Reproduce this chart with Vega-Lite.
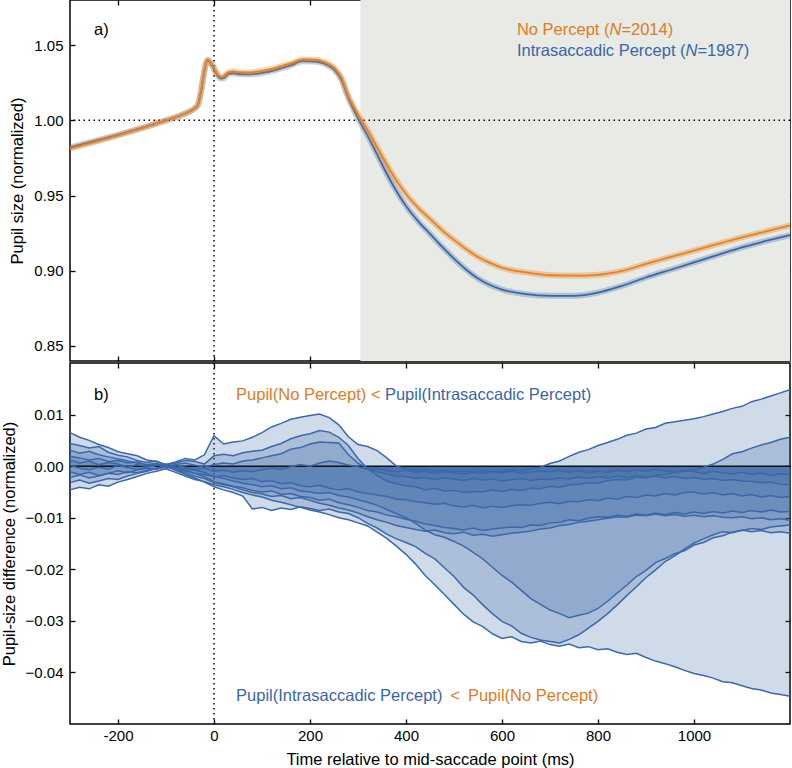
{
"$schema":"https://vega.github.io/schema/vega-lite/v6.json",
"padding":{"left":0,"top":-2,"right":0,"bottom":0},
"background":"white",
"spacing":-4,
"config":{
"font":"Liberation Sans",
"view":{"stroke":"black","strokeWidth":1.5},
"axis":{"domain":false,"grid":false,"tickColor":"black","tickWidth":1.3,"tickSize":-5,"labelFont":"Liberation Sans","labelFontSize":15,"labelColor":"black","labelPadding":12,"titleFont":"Liberation Sans","titleFontSize":16.5,"titleFontWeight":"normal","titleColor":"black","titlePadding":8}
},
"datasets":{
"top":[
{"t":-300,"o":0.9812,"b":0.9820},{"t":-250,"o":0.9855,"b":0.9861},{"t":-200,"o":0.9900,"b":0.9904},{"t":-150,"o":0.9948,"b":0.9950},{"t":-100,"o":1.0000,"b":1.0000},{"t":-75,"o":1.0027,"b":1.0027},{"t":-55,"o":1.0052,"b":1.0052},{"t":-42,"o":1.0075,"b":1.0075},{"t":-34,"o":1.0100,"b":1.0100},{"t":-28,"o":1.0175,"b":1.0175},{"t":-22,"o":1.0290,"b":1.0290},{"t":-17,"o":1.0375,"b":1.0375},{"t":-13,"o":1.0403,"b":1.0400},{"t":-9,"o":1.0392,"b":1.0388},{"t":-4,"o":1.0370,"b":1.0365},{"t":2,"o":1.0335,"b":1.0328},{"t":8,"o":1.0305,"b":1.0295},{"t":14,"o":1.0290,"b":1.0278},{"t":20,"o":1.0293,"b":1.0280},{"t":26,"o":1.0310,"b":1.0297},{"t":32,"o":1.0322,"b":1.0310},{"t":40,"o":1.0325,"b":1.0313},{"t":50,"o":1.0320,"b":1.0308},{"t":70,"o":1.0318,"b":1.0305},{"t":100,"o":1.0328,"b":1.0315},{"t":130,"o":1.0350,"b":1.0336},{"t":160,"o":1.0378,"b":1.0365},{"t":185,"o":1.0405,"b":1.0393},{"t":210,"o":1.0403,"b":1.0391},{"t":230,"o":1.0388,"b":1.0376},{"t":250,"o":1.0350,"b":1.0338},{"t":265,"o":1.0285,"b":1.0273},{"t":280,"o":1.0160,"b":1.0148},{"t":300,"o":1.0040,"b":1.0012},{"t":320,"o":0.9935,"b":0.9898},{"t":340,"o":0.9820,"b":0.9772},{"t":360,"o":0.9705,"b":0.9645},{"t":380,"o":0.9600,"b":0.9530},{"t":400,"o":0.9510,"b":0.9430},{"t":425,"o":0.9420,"b":0.9330},{"t":450,"o":0.9345,"b":0.9245},{"t":475,"o":0.9270,"b":0.9160},{"t":500,"o":0.9205,"b":0.9080},{"t":525,"o":0.9145,"b":0.9008},{"t":550,"o":0.9092,"b":0.8948},{"t":575,"o":0.9052,"b":0.8905},{"t":600,"o":0.9020,"b":0.8875},{"t":650,"o":0.8989,"b":0.8844},{"t":700,"o":0.8970,"b":0.8833},{"t":750,"o":0.8967,"b":0.8833},{"t":800,"o":0.8973,"b":0.8855},{"t":850,"o":0.8999,"b":0.8900},{"t":900,"o":0.9045,"b":0.8955},{"t":950,"o":0.9090,"b":0.9005},{"t":1000,"o":0.9134,"b":0.9055},{"t":1050,"o":0.9178,"b":0.9106},{"t":1100,"o":0.9222,"b":0.9156},{"t":1150,"o":0.9262,"b":0.9198},{"t":1200,"o":0.9302,"b":0.9237}
],
"diff":[
{"t":-300,"a":0.0065,"b":0.0044,"c":0.0031,"d":0.0019,"e":0.0012,"f":0.0002,"g":-0.0011,"h":-0.0022,"i":-0.0032,"j":-0.0046},
{"t":-280,"a":0.0056,"b":0.004,"c":0.0025,"d":0.0016,"e":0.0006,"f":-0.0004,"g":-0.0016,"h":-0.0017,"i":-0.0027,"j":-0.0041},
{"t":-260,"a":0.005,"b":0.0035,"c":0.0029,"d":0.0012,"e":0.001,"f":-0.0007,"g":-0.0012,"h":-0.0023,"i":-0.0033,"j":-0.0044},
{"t":-240,"a":0.0042,"b":0.0038,"c":0.0022,"d":0.0015,"e":0.0003,"f":-0.0002,"g":-0.0018,"h":-0.0019,"i":-0.0029,"j":-0.0036},
{"t":-220,"a":0.0036,"b":0.0027,"c":0.0018,"d":0.0009,"e":0.0007,"f":-0.0006,"g":-0.0014,"h":-0.0014,"i":-0.0024,"j":-0.0039},
{"t":-200,"a":0.0028,"b":0.0021,"c":0.0014,"d":0.0011,"e":0.0004,"f":0.0001,"g":-0.0009,"h":-0.0016,"i":-0.0026,"j":-0.0031},
{"t":-180,"a":0.0024,"b":0.0018,"c":0.001,"d":0.0006,"e":-0.0002,"f":-0.0003,"g":-0.0013,"h":-0.0011,"i":-0.0019,"j":-0.0026},
{"t":-160,"a":0.002,"b":0.0011,"c":0.0006,"d":0.0008,"e":0.0003,"f":-0.0006,"g":-0.0007,"h":-0.0013,"i":-0.0014,"j":-0.002},
{"t":-140,"a":0.0012,"b":0.0007,"c":0.0003,"d":0.0002,"e":-0.0001,"f":-0.0002,"g":-0.0004,"h":-0.0008,"i":-0.001,"j":-0.0014},
{"t":-120,"a":0.0009,"b":0.001,"c":0.0005,"d":0.0004,"e":0.0002,"f":0.0001,"g":-0.0006,"h":-0.0005,"i":-0.0004,"j":-0.001},
{"t":-100,"a":0.0003,"b":0.0002,"c":-0.0001,"d":-0.0003,"e":0.0001,"f":0.0004,"g":0,"h":-0.0002,"i":0.0001,"j":-0.0005},
{"t":-80,"a":0.0008,"b":0.0006,"c":0.0003,"d":0.0001,"e":-0.0003,"f":-0.0002,"g":-0.0007,"h":-0.0006,"i":-0.0008,"j":-0.0012},
{"t":-60,"a":0.0015,"b":0.0011,"c":0.0006,"d":-0.0002,"e":-0.0005,"f":-0.0008,"g":-0.0013,"h":-0.001,"i":-0.0016,"j":-0.0019},
{"t":-40,"a":0.0012,"b":0.0009,"c":0.0002,"d":-0.0006,"e":-0.0008,"f":-0.0014,"g":-0.0019,"h":-0.0014,"i":-0.0023,"j":-0.0026},
{"t":-20,"a":0.0022,"b":0.0004,"c":-0.0002,"d":-0.0004,"e":-0.0012,"f":-0.002,"g":-0.0024,"h":-0.0016,"i":-0.0031,"j":-0.003},
{"t":0,"a":0.0059,"b":0.002,"c":0.0003,"d":-0.001,"e":-0.0021,"f":-0.003,"g":-0.0032,"h":-0.002,"i":-0.004,"j":-0.0036},
{"t":20,"a":0.0043,"b":0.0023,"c":0.0006,"d":-0.0008,"e":-0.0018,"f":-0.0034,"g":-0.0036,"h":-0.0024,"i":-0.0046,"j":-0.004},
{"t":40,"a":0.0047,"b":0.002,"c":0.0004,"d":-0.0012,"e":-0.0023,"f":-0.0039,"g":-0.004,"h":-0.0029,"i":-0.0051,"j":-0.0045},
{"t":60,"a":0.0049,"b":0.0026,"c":0.001,"d":-0.0009,"e":-0.0026,"f":-0.0042,"g":-0.0046,"h":-0.0033,"i":-0.0058,"j":-0.0051},
{"t":80,"a":0.0056,"b":0.0029,"c":0.0012,"d":-0.0011,"e":-0.0024,"f":-0.0047,"g":-0.0051,"h":-0.0036,"i":-0.0083,"j":-0.0056},
{"t":100,"a":0.0065,"b":0.0031,"c":0.0016,"d":-0.0007,"e":-0.003,"f":-0.005,"g":-0.0054,"h":-0.004,"i":-0.008,"j":-0.006},
{"t":120,"a":0.0076,"b":0.0038,"c":0.002,"d":-0.0004,"e":-0.0028,"f":-0.0048,"g":-0.0059,"h":-0.0038,"i":-0.0086,"j":-0.0066},
{"t":140,"a":0.0083,"b":0.0044,"c":0.0024,"d":-0.0006,"e":-0.0034,"f":-0.0055,"g":-0.0057,"h":-0.0044,"i":-0.0081,"j":-0.007},
{"t":160,"a":0.0091,"b":0.0053,"c":0.0033,"d":-0.0001,"e":-0.0032,"f":-0.0053,"g":-0.0063,"h":-0.0042,"i":-0.0084,"j":-0.0075},
{"t":180,"a":0.0095,"b":0.0059,"c":0.0036,"d":0.0003,"e":-0.0038,"f":-0.0059,"g":-0.0061,"h":-0.0048,"i":-0.0079,"j":-0.008},
{"t":200,"a":0.0098,"b":0.0063,"c":0.0043,"d":0,"e":-0.004,"f":-0.0061,"g":-0.0066,"h":-0.005,"i":-0.0082,"j":-0.0085},
{"t":220,"a":0.0101,"b":0.0069,"c":0.0047,"d":0.0006,"e":-0.0037,"f":-0.0066,"g":-0.0072,"h":-0.0053,"i":-0.0086,"j":-0.0089},
{"t":240,"a":0.0094,"b":0.0066,"c":0.0046,"d":0.001,"e":-0.0043,"f":-0.0064,"g":-0.0076,"h":-0.0051,"i":-0.0083,"j":-0.0094},
{"t":260,"a":0.008,"b":0.0056,"c":0.0045,"d":0.0007,"e":-0.0046,"f":-0.0071,"g":-0.0081,"h":-0.0057,"i":-0.0089,"j":-0.01},
{"t":280,"a":0.0057,"b":0.004,"c":0.0022,"d":0.0002,"e":-0.0044,"f":-0.0075,"g":-0.0085,"h":-0.006,"i":-0.0092,"j":-0.0104},
{"t":300,"a":0.0042,"b":0.0015,"c":0.0006,"d":-0.0001,"e":-0.005,"f":-0.008,"g":-0.0091,"h":-0.0065,"i":-0.01,"j":-0.011},
{"t":320,"a":0.0038,"b":-0.0005,"c":-0.0004,"d":-0.0006,"e":-0.0053,"f":-0.0086,"g":-0.0098,"h":-0.007,"i":-0.0111,"j":-0.0116},
{"t":340,"a":0.003,"b":-0.0018,"c":-0.0011,"d":-0.0004,"e":-0.0056,"f":-0.0089,"g":-0.0104,"h":-0.0076,"i":-0.012,"j":-0.0128},
{"t":360,"a":0.0016,"b":-0.0029,"c":-0.0015,"d":-0.0009,"e":-0.0059,"f":-0.0095,"g":-0.0109,"h":-0.0084,"i":-0.0132,"j":-0.014},
{"t":380,"a":0,"b":-0.0034,"c":-0.0019,"d":-0.0011,"e":-0.0064,"f":-0.0098,"g":-0.0115,"h":-0.0092,"i":-0.0141,"j":-0.0155},
{"t":400,"a":-0.0005,"b":-0.0038,"c":-0.002,"d":-0.0008,"e":-0.0065,"f":-0.0103,"g":-0.0119,"h":-0.01,"i":-0.0148,"j":-0.0171},
{"t":420,"a":-0.0008,"b":-0.004,"c":-0.0024,"d":-0.0012,"e":-0.0069,"f":-0.0107,"g":-0.0123,"h":-0.0111,"i":-0.0156,"j":-0.019},
{"t":440,"a":-0.0006,"b":-0.0046,"c":-0.0022,"d":-0.001,"e":-0.0071,"f":-0.0112,"g":-0.0126,"h":-0.0124,"i":-0.0169,"j":-0.0212},
{"t":460,"a":-0.001,"b":-0.0043,"c":-0.0026,"d":-0.0014,"e":-0.0074,"f":-0.0115,"g":-0.0124,"h":-0.0133,"i":-0.018,"j":-0.023},
{"t":480,"a":-0.0008,"b":-0.0048,"c":-0.0023,"d":-0.0011,"e":-0.0072,"f":-0.0119,"g":-0.0129,"h":-0.0138,"i":-0.0197,"j":-0.0249},
{"t":500,"a":-0.0011,"b":-0.0047,"c":-0.0025,"d":-0.0013,"e":-0.0077,"f":-0.0121,"g":-0.0131,"h":-0.0146,"i":-0.0214,"j":-0.0268},
{"t":520,"a":-0.0009,"b":-0.0051,"c":-0.0028,"d":-0.0015,"e":-0.0079,"f":-0.0124,"g":-0.0128,"h":-0.0155,"i":-0.0235,"j":-0.0287},
{"t":540,"a":-0.0012,"b":-0.0049,"c":-0.0024,"d":-0.0012,"e":-0.0076,"f":-0.012,"g":-0.0134,"h":-0.0167,"i":-0.025,"j":-0.0302},
{"t":560,"a":-0.0009,"b":-0.005,"c":-0.0027,"d":-0.0014,"e":-0.0081,"f":-0.0125,"g":-0.0132,"h":-0.018,"i":-0.0269,"j":-0.0311},
{"t":580,"a":-0.0011,"b":-0.0046,"c":-0.0025,"d":-0.0011,"e":-0.0078,"f":-0.0122,"g":-0.0136,"h":-0.0196,"i":-0.0286,"j":-0.0325},
{"t":600,"a":-0.001,"b":-0.0049,"c":-0.0029,"d":-0.0013,"e":-0.008,"f":-0.012,"g":-0.0133,"h":-0.0212,"i":-0.0301,"j":-0.0334},
{"t":620,"a":-0.0007,"b":-0.0045,"c":-0.0026,"d":-0.001,"e":-0.0077,"f":-0.0118,"g":-0.013,"h":-0.0225,"i":-0.031,"j":-0.0331},
{"t":640,"a":-0.0009,"b":-0.0047,"c":-0.0024,"d":-0.0014,"e":-0.0075,"f":-0.0119,"g":-0.0128,"h":-0.0241,"i":-0.0324,"j":-0.034},
{"t":660,"a":-0.0005,"b":-0.0043,"c":-0.0028,"d":-0.0012,"e":-0.0076,"f":-0.0114,"g":-0.0126,"h":-0.0257,"i":-0.0332,"j":-0.0343},
{"t":680,"a":-0.0002,"b":-0.0044,"c":-0.0025,"d":-0.0009,"e":-0.0072,"f":-0.0115,"g":-0.0122,"h":-0.0268,"i":-0.0337,"j":-0.0339},
{"t":700,"a":0.0005,"b":-0.0039,"c":-0.0026,"d":-0.0011,"e":-0.007,"f":-0.011,"g":-0.012,"h":-0.0279,"i":-0.034,"j":-0.0346},
{"t":720,"a":0.001,"b":-0.0041,"c":-0.0023,"d":-0.0008,"e":-0.0073,"f":-0.0109,"g":-0.0115,"h":-0.0286,"i":-0.0343,"j":-0.0349},
{"t":740,"a":0.0019,"b":-0.0036,"c":-0.0025,"d":-0.0012,"e":-0.0068,"f":-0.0104,"g":-0.0113,"h":-0.0294,"i":-0.0336,"j":-0.0345},
{"t":760,"a":0.0027,"b":-0.0035,"c":-0.0021,"d":-0.0009,"e":-0.0069,"f":-0.0106,"g":-0.0109,"h":-0.0289,"i":-0.0327,"j":-0.0352},
{"t":780,"a":0.0032,"b":-0.0032,"c":-0.0024,"d":-0.0013,"e":-0.0065,"f":-0.0101,"g":-0.0107,"h":-0.0285,"i":-0.0314,"j":-0.035},
{"t":800,"a":0.004,"b":-0.0033,"c":-0.002,"d":-0.001,"e":-0.0067,"f":-0.0098,"g":-0.0104,"h":-0.0276,"i":-0.0301,"j":-0.0356},
{"t":820,"a":0.0046,"b":-0.0028,"c":-0.0023,"d":-0.0012,"e":-0.0062,"f":-0.0099,"g":-0.0101,"h":-0.0262,"i":-0.0286,"j":-0.0354},
{"t":840,"a":0.0052,"b":-0.0026,"c":-0.0019,"d":-0.0008,"e":-0.0064,"f":-0.0095,"g":-0.0098,"h":-0.0246,"i":-0.0269,"j":-0.0361},
{"t":860,"a":0.006,"b":-0.0027,"c":-0.0022,"d":-0.0011,"e":-0.0059,"f":-0.0097,"g":-0.0099,"h":-0.0231,"i":-0.0251,"j":-0.0365},
{"t":880,"a":0.0064,"b":-0.0021,"c":-0.0018,"d":-0.0007,"e":-0.0061,"f":-0.0093,"g":-0.0095,"h":-0.0214,"i":-0.0234,"j":-0.0363},
{"t":900,"a":0.0072,"b":-0.0023,"c":-0.0021,"d":-0.001,"e":-0.0056,"f":-0.0095,"g":-0.0096,"h":-0.0202,"i":-0.0216,"j":-0.0371},
{"t":920,"a":0.0075,"b":-0.0017,"c":-0.0019,"d":-0.0006,"e":-0.0058,"f":-0.0091,"g":-0.0093,"h":-0.0187,"i":-0.0201,"j":-0.0378},
{"t":940,"a":0.0083,"b":-0.0016,"c":-0.0023,"d":-0.0009,"e":-0.0053,"f":-0.0094,"g":-0.0096,"h":-0.0179,"i":-0.0185,"j":-0.0383},
{"t":960,"a":0.0086,"b":-0.0012,"c":-0.002,"d":-0.0012,"e":-0.0056,"f":-0.009,"g":-0.0094,"h":-0.017,"i":-0.0174,"j":-0.0389},
{"t":980,"a":0.0089,"b":-0.001,"c":-0.0024,"d":-0.0008,"e":-0.0051,"f":-0.0093,"g":-0.0097,"h":-0.0164,"i":-0.0161,"j":-0.0396},
{"t":1000,"a":0.0092,"b":-0.0007,"c":-0.0022,"d":-0.0011,"e":-0.005,"f":-0.0089,"g":-0.0095,"h":-0.0153,"i":-0.0149,"j":-0.0402},
{"t":1020,"a":0.0096,"b":-0.0002,"c":-0.0026,"d":-0.0014,"e":-0.0054,"f":-0.0092,"g":-0.0098,"h":-0.0148,"i":-0.0141,"j":-0.0406},
{"t":1040,"a":0.0101,"b":0.0004,"c":-0.0024,"d":-0.001,"e":-0.0051,"f":-0.0088,"g":-0.0096,"h":-0.0139,"i":-0.0133,"j":-0.0411},
{"t":1060,"a":0.0106,"b":0.0013,"c":-0.0028,"d":-0.0013,"e":-0.0056,"f":-0.0091,"g":-0.0099,"h":-0.0135,"i":-0.0127,"j":-0.0418},
{"t":1080,"a":0.0112,"b":0.0024,"c":-0.0026,"d":-0.0015,"e":-0.0053,"f":-0.0087,"g":-0.01,"h":-0.0128,"i":-0.0129,"j":-0.042},
{"t":1100,"a":0.0116,"b":0.0028,"c":-0.0029,"d":-0.0012,"e":-0.0058,"f":-0.009,"g":-0.0098,"h":-0.0125,"i":-0.0124,"j":-0.0426},
{"t":1120,"a":0.0125,"b":0.0035,"c":-0.003,"d":-0.0016,"e":-0.0055,"f":-0.0086,"g":-0.0102,"h":-0.0121,"i":-0.0127,"j":-0.0431},
{"t":1140,"a":0.013,"b":0.0041,"c":-0.0032,"d":-0.0014,"e":-0.006,"f":-0.0089,"g":-0.01,"h":-0.0123,"i":-0.0125,"j":-0.0434},
{"t":1160,"a":0.0136,"b":0.0046,"c":-0.0031,"d":-0.0018,"e":-0.0057,"f":-0.0085,"g":-0.0104,"h":-0.0118,"i":-0.0129,"j":-0.044},
{"t":1180,"a":0.0142,"b":0.0052,"c":-0.0035,"d":-0.0015,"e":-0.0061,"f":-0.0089,"g":-0.0102,"h":-0.0116,"i":-0.0127,"j":-0.0443},
{"t":1200,"a":0.0148,"b":0.0056,"c":-0.0036,"d":-0.0017,"e":-0.0059,"f":-0.0088,"g":-0.0105,"h":-0.0114,"i":-0.013,"j":-0.0446}
]
},
"vconcat":[
{
"width":720,"height":361,
"resolve":{"axis":{"x":"independent","y":"independent"}},
"layer":[
{"data":{"values":[{"t0":305,"t1":1200}]},"mark":{"type":"rect","color":"#e8eae6"},
"encoding":{"x":{"field":"t0","type":"quantitative","scale":{"domain":[-300,1200],"nice":false,"zero":false},"axis":{"orient":"bottom","values":[-200,0,200,400,600,800,1000],"labels":false,"title":null}},"x2":{"field":"t1"}}},
{"data":{"values":[{}]},"mark":{"type":"rule","color":"black","strokeWidth":1.5,"strokeDash":[1.5,3.5]},
"encoding":{"y":{"datum":1,"type":"quantitative","scale":{"domain":[0.84,1.08],"nice":false,"zero":false},"axis":null}}},
{"data":{"values":[{}]},"mark":{"type":"rule","color":"black","strokeWidth":1.5,"strokeDash":[1.5,3.5]},
"encoding":{"x":{"datum":0,"type":"quantitative","scale":{"domain":[-300,1200],"nice":false,"zero":false},"axis":null}}},
{"data":{"name":"top"},"mark":{"type":"line","color":"#3a67a8","strokeWidth":6,"opacity":0.3,"interpolate":"monotone"},
"encoding":{"x":{"field":"t","type":"quantitative","scale":{"domain":[-300,1200],"nice":false,"zero":false},"axis":{"orient":"top","values":[-200,0,200,400,600,800,1000],"labels":false,"title":null}},
"y":{"field":"b","type":"quantitative","scale":{"domain":[0.84,1.08],"nice":false,"zero":false},"axis":{"orient":"left","values":[0.85,0.9,0.95,1,1.05],"format":".2f","title":"Pupil size (normalized)"}}}},
{"data":{"name":"top"},"mark":{"type":"line","color":"#3a67a8","strokeWidth":1.8,"interpolate":"monotone"},
"encoding":{"x":{"field":"t","type":"quantitative","axis":null},"y":{"field":"b","type":"quantitative","axis":null}}},
{"data":{"name":"top"},"mark":{"type":"line","color":"#e8821f","strokeWidth":6,"opacity":0.35,"interpolate":"monotone"},
"encoding":{"x":{"field":"t","type":"quantitative","axis":null},
"y":{"field":"o","type":"quantitative","axis":{"orient":"right","values":[0.85,0.9,0.95,1,1.05],"labels":false,"title":null}}}},
{"data":{"name":"top"},"mark":{"type":"line","color":"#e8821f","strokeWidth":1.8,"interpolate":"monotone"},
"encoding":{"x":{"field":"t","type":"quantitative","axis":null},"y":{"field":"o","type":"quantitative","axis":null}}},
{"data":{"values":[{}]},"mark":{"type":"text","text":"a)","align":"left","baseline":"middle","fontSize":16.5,"color":"black"},
"encoding":{"x":{"datum":-250,"type":"quantitative","axis":null},"y":{"datum":1.0601,"type":"quantitative","axis":null}}},
{"data":{"values":[{}]},"mark":{"type":"text","text":"No Percept (","align":"left","baseline":"middle","fontSize":16.5,"color":"#e07b22"},
"encoding":{"x":{"datum":631,"type":"quantitative","axis":null},"y":{"datum":1.0601,"type":"quantitative","axis":null}}},
{"data":{"values":[{}]},"mark":{"type":"text","text":"N","align":"left","baseline":"middle","fontSize":16.5,"fontStyle":"italic","dx":92.6,"color":"#e07b22"},
"encoding":{"x":{"datum":631,"type":"quantitative","axis":null},"y":{"datum":1.0601,"type":"quantitative","axis":null}}},
{"data":{"values":[{}]},"mark":{"type":"text","text":"=2014)","align":"left","baseline":"middle","fontSize":16.5,"dx":104.5,"color":"#e07b22"},
"encoding":{"x":{"datum":631,"type":"quantitative","axis":null},"y":{"datum":1.0601,"type":"quantitative","axis":null}}},
{"data":{"values":[{}]},"mark":{"type":"text","text":"Intrasaccadic Percept (","align":"left","baseline":"middle","fontSize":16.5,"color":"#3a66a6"},
"encoding":{"x":{"datum":631,"type":"quantitative","axis":null},"y":{"datum":1.0463,"type":"quantitative","axis":null}}},
{"data":{"values":[{}]},"mark":{"type":"text","text":"N","align":"left","baseline":"middle","fontSize":16.5,"fontStyle":"italic","dx":168.7,"color":"#3a66a6"},
"encoding":{"x":{"datum":631,"type":"quantitative","axis":null},"y":{"datum":1.0463,"type":"quantitative","axis":null}}},
{"data":{"values":[{}]},"mark":{"type":"text","text":"=1987)","align":"left","baseline":"middle","fontSize":16.5,"dx":180.6,"color":"#3a66a6"},
"encoding":{"x":{"datum":631,"type":"quantitative","axis":null},"y":{"datum":1.0463,"type":"quantitative","axis":null}}}
]
},
{
"width":720,"height":361,
"resolve":{"axis":{"x":"independent","y":"independent"}},
"layer":[
{"data":{"values":[{}]},"mark":{"type":"rule","color":"black","strokeWidth":1.5,"strokeDash":[1.5,3.5]},
"encoding":{"x":{"datum":0,"type":"quantitative","scale":{"domain":[-300,1200],"nice":false,"zero":false},"axis":null}}},
{"data":{"name":"diff"},"transform":[{"fold":["a","b","c","d","e","f","g","h","i","j"],"as":["k","v"]}],
"mark":{"type":"area","color":"#3b68a9","fillOpacity":0.24,"opacity":1},
"encoding":{"x":{"field":"t","type":"quantitative","scale":{"domain":[-300,1200],"nice":false,"zero":false},"axis":{"orient":"bottom","values":[-200,0,200,400,600,800,1000],"format":"d","labelPadding":9,"labelExpr":"replace(datum.label, '\u2212', '-')","title":"Time relative to mid-saccade point (ms)"}},
"y":{"field":"v","type":"quantitative","scale":{"domain":[-0.05,0.02],"nice":false,"zero":false},"axis":{"orient":"left","values":[-0.04,-0.03,-0.02,-0.01,0,0.01],"format":".2f","title":"Pupil-size difference (normalized)"}},
"y2":{"datum":0},"detail":{"field":"k"}}},
{"data":{"values":[{}]},"mark":{"type":"rule","color":"#111111","strokeWidth":1.5},
"encoding":{"y":{"datum":0,"type":"quantitative","scale":{"domain":[-0.05,0.02],"nice":false,"zero":false},"axis":null}}},
{"data":{"name":"diff"},"transform":[{"fold":["a","b","c","d","e","f","g","h","i","j"],"as":["k","v"]}],
"mark":{"type":"line","color":"#3b68a9","strokeWidth":1.5},
"encoding":{"x":{"field":"t","type":"quantitative","axis":{"orient":"top","values":[-200,0,200,400,600,800,1000],"labels":false,"title":null}},
"y":{"field":"v","type":"quantitative","axis":{"orient":"right","values":[-0.04,-0.03,-0.02,-0.01,0,0.01],"labels":false,"title":null}},
"detail":{"field":"k"}}},
{"data":{"values":[{}]},"mark":{"type":"text","text":"b)","align":"left","baseline":"middle","fontSize":16.5,"color":"black"},
"encoding":{"x":{"datum":-250,"type":"quantitative","axis":null},"y":{"datum":0.0138,"type":"quantitative","axis":null}}},
{"data":{"values":[{}]},"mark":{"type":"text","text":"Pupil(No Percept) <","align":"left","baseline":"middle","fontSize":16.5,"color":"#e07b22"},
"encoding":{"x":{"datum":46,"type":"quantitative","axis":null},"y":{"datum":0.0138,"type":"quantitative","axis":null}}},
{"data":{"values":[{}]},"mark":{"type":"text","text":"Pupil(Intrasaccadic Percept)","align":"left","baseline":"middle","fontSize":16.5,"color":"#3a66a6"},
"encoding":{"x":{"datum":356,"type":"quantitative","axis":null},"y":{"datum":0.0138,"type":"quantitative","axis":null}}},
{"data":{"values":[{}]},"mark":{"type":"text","text":"Pupil(Intrasaccadic Percept)","align":"left","baseline":"middle","fontSize":16.5,"color":"#3a66a6"},
"encoding":{"x":{"datum":46,"type":"quantitative","axis":null},"y":{"datum":-0.0446,"type":"quantitative","axis":null}}},
{"data":{"values":[{}]},"mark":{"type":"text","text":"<","align":"left","baseline":"middle","fontSize":16.5,"color":"#e07b22"},
"encoding":{"x":{"datum":492,"type":"quantitative","axis":null},"y":{"datum":-0.0446,"type":"quantitative","axis":null}}},
{"data":{"values":[{}]},"mark":{"type":"text","text":"Pupil(No Percept)","align":"left","baseline":"middle","fontSize":16.5,"color":"#e07b22"},
"encoding":{"x":{"datum":529,"type":"quantitative","axis":null},"y":{"datum":-0.0446,"type":"quantitative","axis":null}}}
]
}
]
}
